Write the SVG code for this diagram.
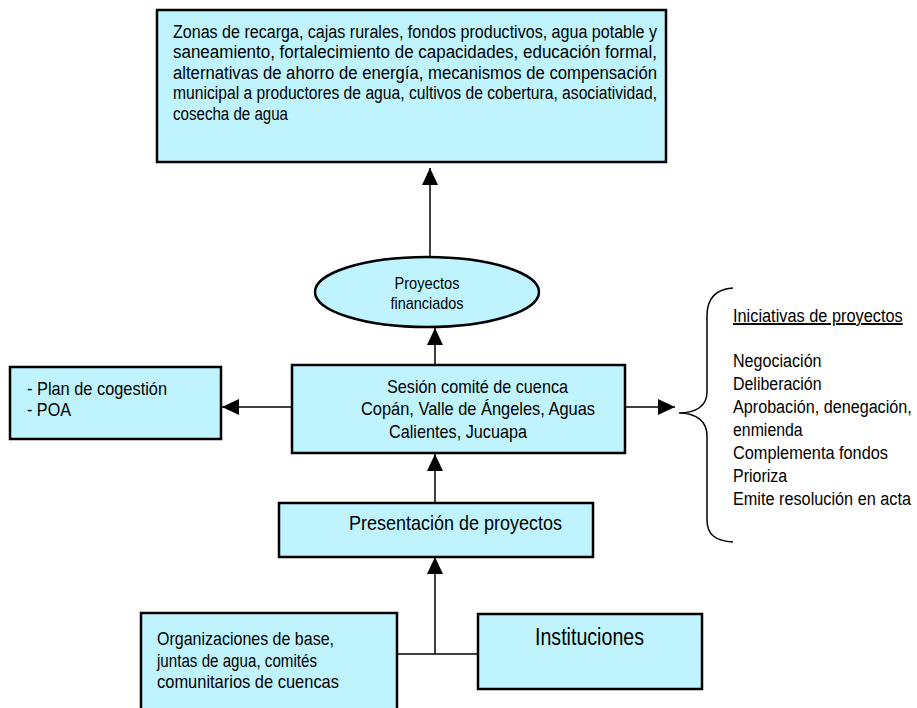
<svg xmlns="http://www.w3.org/2000/svg" width="917" height="708" viewBox="0 0 917 708">
<defs>
<style>
.box{fill:#bff4ff;stroke:#000;stroke-width:2.5}
.t{font-family:"Liberation Sans Narrow","Arial Narrow","Liberation Sans",Arial,sans-serif;fill:#000}
.c{stroke:#000;stroke-width:1.5;fill:none}
</style>
<marker id="ah" markerUnits="userSpaceOnUse" markerWidth="17" markerHeight="16" refX="17" refY="8" orient="auto">
<path d="M0,0 L17,8 L0,16 z" fill="#000"/>
</marker>
</defs>
<rect width="917" height="708" fill="#fff"/>
<g id="connectors">
<line class="c" x1="430" y1="257" x2="430" y2="168" marker-end="url(#ah)"/>
<line class="c" x1="435" y1="365" x2="435" y2="328" marker-end="url(#ah)"/>
<line class="c" x1="292" y1="407" x2="222" y2="407" marker-end="url(#ah)"/>
<line class="c" x1="625" y1="407" x2="675" y2="407" marker-end="url(#ah)"/>
<line class="c" x1="435" y1="503" x2="435" y2="454" marker-end="url(#ah)"/>
<line class="c" x1="397" y1="654" x2="478" y2="654"/>
<line class="c" x1="435" y1="654" x2="435" y2="557" marker-end="url(#ah)"/>
</g>
<g id="proyectos-lista">
<rect class="box" x="157" y="10" width="509" height="152"/>
<g class="t" font-size="18">
<text x="173" y="38" textLength="484" lengthAdjust="spacingAndGlyphs">Zonas de recarga, cajas rurales, fondos productivos, agua potable y</text>
<text x="173" y="58" textLength="484" lengthAdjust="spacingAndGlyphs">saneamiento, fortalecimiento de capacidades, educación formal,</text>
<text x="173" y="79" textLength="484" lengthAdjust="spacingAndGlyphs">alternativas de ahorro de energía, mecanismos de compensación</text>
<text x="173" y="99" textLength="484" lengthAdjust="spacingAndGlyphs">municipal a productores de agua, cultivos de cobertura, asociatividad,</text>
<text x="173" y="120" textLength="115" lengthAdjust="spacingAndGlyphs">cosecha de agua</text>
</g>
</g>
<g id="proyectos-financiados">
<ellipse class="box" cx="427" cy="292" rx="112" ry="35"/>
<g class="t" font-size="17" text-anchor="middle">
<text x="427" y="289" textLength="65" lengthAdjust="spacingAndGlyphs">Proyectos</text>
<text x="427" y="309" textLength="73" lengthAdjust="spacingAndGlyphs">financiados</text>
</g>
</g>
<g id="plan">
<rect class="box" x="10" y="367" width="211" height="72"/>
<g class="t" font-size="19">
<text x="27" y="395" textLength="140" lengthAdjust="spacingAndGlyphs">- Plan de cogestión</text>
<text x="27" y="416" textLength="44" lengthAdjust="spacingAndGlyphs">- POA</text>
</g>
</g>
<g id="sesion">
<rect class="box" x="292" y="365" width="333" height="88"/>
<g class="t" font-size="19">
<text x="387" y="393" textLength="181" lengthAdjust="spacingAndGlyphs">Sesión comité de cuenca</text>
<text x="361" y="415" textLength="234" lengthAdjust="spacingAndGlyphs">Copán, Valle de Ángeles, Aguas</text>
<text x="389" y="438" textLength="138" lengthAdjust="spacingAndGlyphs">Calientes, Jucuapa</text>
</g>
</g>
<g id="iniciativas">
<path d="M733,288 C716,289 707,298 707,316 L707,392 C707,406 696,413 679,413 C696,413 707,421 707,436 L707,520 C707,535 716,541 733,542" fill="none" stroke="#000" stroke-width="1.5"/>
<g class="t" font-size="19" transform="translate(733 0) scale(0.82 1)">
<text x="0" y="322" textLength="207" lengthAdjust="spacingAndGlyphs" text-decoration="underline">Iniciativas de proyectos</text>
<text x="0" y="367" textLength="108" lengthAdjust="spacingAndGlyphs">Negociación</text>
<text x="0" y="390" textLength="108" lengthAdjust="spacingAndGlyphs">Deliberación</text>
<text x="0" y="413" textLength="218" lengthAdjust="spacingAndGlyphs">Aprobación, denegación,</text>
<text x="0" y="436" textLength="85" lengthAdjust="spacingAndGlyphs">enmienda</text>
<text x="0" y="459" textLength="189" lengthAdjust="spacingAndGlyphs">Complementa fondos</text>
<text x="0" y="482" textLength="66" lengthAdjust="spacingAndGlyphs">Prioriza</text>
<text x="0" y="505" textLength="217" lengthAdjust="spacingAndGlyphs">Emite resolución en acta</text>
</g>
</g>
<g id="presentacion">
<rect class="box" x="279" y="503" width="314" height="54"/>
<text class="t" font-size="21" x="349" y="530" textLength="213" lengthAdjust="spacingAndGlyphs">Presentación de proyectos</text>
</g>
<g id="organizaciones">
<rect class="box" x="141" y="613" width="256" height="100"/>
<g class="t" font-size="19">
<text x="157" y="645" textLength="177" lengthAdjust="spacingAndGlyphs">Organizaciones de base,</text>
<text x="157" y="667" textLength="160" lengthAdjust="spacingAndGlyphs">juntas de agua, comités</text>
<text x="157" y="688" textLength="182" lengthAdjust="spacingAndGlyphs">comunitarios de cuencas</text>
</g>
</g>
<g id="instituciones">
<rect class="box" x="478" y="614" width="224" height="75"/>
<text class="t" font-size="23" x="535" y="645" textLength="109" lengthAdjust="spacingAndGlyphs">Instituciones</text>
</g>
</svg>
